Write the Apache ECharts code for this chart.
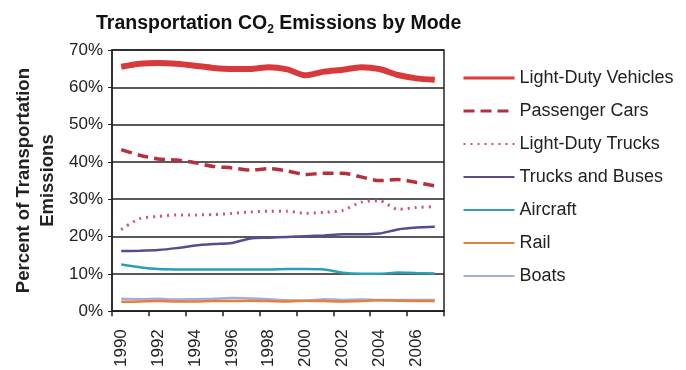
<!DOCTYPE html>
<html>
<head>
<meta charset="utf-8">
<script src="https://cdn.jsdelivr.net/npm/echarts@6/dist/echarts.min.js"></script>
<style>
  html, body { margin: 0; padding: 0; background: #fff; }
  #chart { width: 686px; height: 370px; }
</style>
</head>
<body>
<div id="chart"></div>
<script>
// years on the x axis
var years = ['1990','1991','1992','1993','1994','1995','1996','1997','1998','1999',
             '2000','2001','2002','2003','2004','2005','2006','2007'];
var yTicks = [0, 10, 20, 30, 40, 50, 60, 70];

// share of transportation emissions (%)
var lightDutyVehicles = [65.5, 66.3, 66.5, 66.3, 65.8, 65.2, 64.9, 64.9, 65.4, 64.8, 63.2, 64.2, 64.7, 65.4, 64.9, 63.3, 62.4, 62.0];
var passengerCars     = [43.3, 41.8, 40.8, 40.5, 39.8, 38.8, 38.4, 37.8, 38.2, 37.6, 36.6, 37.0, 37.0, 36.0, 35.0, 35.3, 34.5, 33.6];
var lightDutyTrucks   = [21.9, 24.8, 25.4, 25.8, 25.8, 25.9, 26.2, 26.6, 26.8, 26.8, 26.2, 26.5, 27.0, 29.2, 29.6, 27.3, 27.8, 28.0];
var trucksBuses       = [16.1, 16.2, 16.4, 16.9, 17.6, 18.0, 18.3, 19.5, 19.7, 19.9, 20.1, 20.3, 20.6, 20.6, 20.8, 21.9, 22.4, 22.6];
var aircraft          = [12.5, 11.8, 11.3, 11.2, 11.2, 11.2, 11.2, 11.2, 11.2, 11.3, 11.3, 11.2, 10.3, 10.0, 10.0, 10.4, 10.2, 10.1];
var rail              = [2.5, 2.6, 2.7, 2.6, 2.6, 2.7, 2.7, 2.8, 2.7, 2.6, 2.8, 2.7, 2.6, 2.7, 2.9, 2.8, 2.7, 2.7];
var boats             = [3.3, 3.2, 3.3, 3.1, 3.2, 3.3, 3.5, 3.4, 3.2, 2.9, 2.8, 3.2, 3.0, 3.1, 3.0, 3.0, 3.0, 3.0];

var font = "'Liberation Sans', Arial, sans-serif";
var chart = echarts.init(document.getElementById('chart'), null, { renderer: 'canvas' });

function line(name, data, color, width, type, z) {
  return {
    name: name,
    type: 'line',
    data: data,
    symbol: 'none',
    smooth: 0.25,
    z: z,
    lineStyle: { color: color, width: width, type: type || 'solid' },
    itemStyle: { color: color }
  };
}

var option = {
  backgroundColor: '#fff',
  animation: false,
  title: {
    text: '{a|Transportation CO}{s|2}{a| Emissions by Mode}',
    left: 91,
    top: 7,
    textStyle: {
      rich: {
        a: { fontFamily: font, fontSize: 19.5, fontWeight: 'bold', color: '#111', lineHeight: 24, verticalAlign: 'middle' },
        s: { fontFamily: font, fontSize: 12, fontWeight: 'bold', color: '#111', padding: [11, 0, 0, 0], verticalAlign: 'bottom' }
      }
    }
  },
  grid: {
    left: 112, right: 242, top: 50, bottom: 58,
    show: true, borderColor: '#222', borderWidth: 1.5, backgroundColor: 'transparent'
  },
  legend: {
    orient: 'vertical',
    left: 457,
    top: 63,
    itemWidth: 51,
    itemHeight: 14,
    itemGap: 13,
    itemStyle: { opacity: 0 },
    lineStyle: { width: 2 },
    textStyle: { fontFamily: font, fontSize: 18, lineHeight: 20, color: '#222' },
    data: [
      { name: 'Light-Duty Vehicles', lineStyle: { width: 3 } },
      { name: 'Passenger Cars', lineStyle: { width: 3 } },
      'Light-Duty Trucks', 'Trucks and Buses', 'Aircraft', 'Rail', 'Boats'
    ]
  },
  xAxis: {
    type: 'category',
    data: years,
    boundaryGap: true,
    axisLine: { lineStyle: { color: '#222', width: 1.5 } },
    axisTick: { show: true, length: 5, lineStyle: { color: '#222', width: 1.5 } },
    axisLabel: { interval: 1, rotate: 90, margin: 18, fontFamily: font, fontSize: 17, color: '#222' }
  },
  yAxis: {
    type: 'value',
    min: yTicks[0],
    max: yTicks[yTicks.length - 1],
    interval: 10,
    name: 'Percent of Transportation\nEmissions',
    nameLocation: 'middle',
    nameRotate: 90,
    nameGap: 52,
    nameTextStyle: { fontFamily: font, fontSize: 18.5, fontWeight: 'bold', color: '#222', lineHeight: 24 },
    axisLine: { show: true, lineStyle: { color: '#222', width: 1.5 } },
    axisTick: { show: true, length: 4, lineStyle: { color: '#222' } },
    axisLabel: { formatter: '{value}%', margin: 9, fontFamily: font, fontSize: 17, color: '#222' },
    splitLine: { show: true, lineStyle: { color: '#222', width: 1.5 } }
  },
  series: [
    line('Light-Duty Vehicles', lightDutyVehicles, '#d83a3c', 6, 'solid', 9),
    line('Passenger Cars', passengerCars, '#b5303f', 3.5, [11, 6], 8),
    line('Light-Duty Trucks', lightDutyTrucks, '#c9566c', 3, [2, 5], 7),
    line('Trucks and Buses', trucksBuses, '#5b4a8e', 2.5, 'solid', 6),
    line('Aircraft', aircraft, '#2b9fb6', 2.5, 'solid', 5),
    line('Rail', rail, '#e4803a', 2.5, 'solid', 4),
    line('Boats', boats, '#a5abe2', 2.5, 'solid', 3)
  ]
};

chart.setOption(option);
</script>
</body>
</html>
